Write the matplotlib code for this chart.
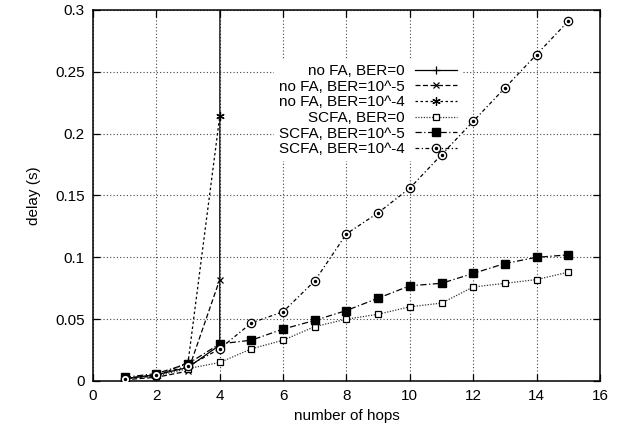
import numpy as np
import matplotlib.pyplot as plt

plt.rcParams['font.family'] = ['Liberation Sans', 'DejaVu Sans']
plt.rcParams['font.size'] = 11

# no FA series (delay explodes after 4 hops)
hops_nofa0 = [1, 2, 3, 4, 5]
nofa_ber0 = [0.002, 0.005, 0.011, 0.029, 50.0]
hops_nofa = [1, 2, 3, 4]
nofa_ber5 = [0.001, 0.003, 0.008, 0.082]
nofa_ber4 = [0.002, 0.004, 0.015, 0.214]

# SCFA series
hops = list(range(1, 16))
scfa_ber0 = [0.002, 0.004, 0.010, 0.015, 0.026, 0.033, 0.044, 0.050, 0.054,
             0.060, 0.063, 0.076, 0.079, 0.082, 0.088]
scfa_ber5 = [0.003, 0.006, 0.014, 0.030, 0.033, 0.042, 0.049, 0.057, 0.067,
             0.077, 0.079, 0.087, 0.095, 0.100, 0.102]
scfa_ber4 = [0.002, 0.005, 0.012, 0.026, 0.047, 0.056, 0.081, 0.119, 0.136,
             0.156, 0.183, 0.210, 0.237, 0.264, 0.291]

xticks = [0, 2, 4, 6, 8, 10, 12, 14, 16]
yticks = [0, 0.05, 0.1, 0.15, 0.2, 0.25, 0.3]
ytick_labels = ['0', '0.05', '0.1', '0.15', '0.2', '0.25', '0.3']

fig = plt.figure(figsize=(6.22, 4.29), dpi=100)
ax = fig.add_axes([0.1495, 0.1119, 0.8151, 0.8648])

lw = 0.9
l1, = ax.plot(hops_nofa0, nofa_ber0, color='black', lw=lw, ls='-', marker='+',
              ms=6, mew=0.9, zorder=3)
l2, = ax.plot(hops_nofa, nofa_ber5, color='black', lw=lw, ls=(0, (4, 2)), marker='x',
              ms=5, mew=0.9, zorder=3)
l3, = ax.plot(hops_nofa, nofa_ber4, color='black', lw=lw, ls=(0, (2, 2)),
              marker=(6, 2, 0), ms=6, mew=0.9, zorder=3)
l4, = ax.plot(hops, scfa_ber0, color='#333333', lw=lw, ls=(0, (1, 1.2)), marker='s',
              ms=5, mfc='white', mec='black', mew=0.9, zorder=3)
l5, = ax.plot(hops, scfa_ber5, color='black', lw=lw, ls=(0, (5, 2, 1, 2)), marker='s',
              ms=6, mfc='black', mec='black', zorder=3)
l6, = ax.plot(hops, scfa_ber4, color='black', lw=lw, ls=(0, (3, 2, 1, 2)), marker='o',
              ms=6, mfc='white', mec='black', mew=0.9, zorder=3)
# dot inside the circle markers
l6d, = ax.plot(hops, scfa_ber4, ls='none', marker='.', ms=3, color='black', zorder=4)

ax.set_xlim(0, 16)
ax.set_ylim(0, 0.3)
ax.set_xticks(xticks)
ax.set_yticks(yticks)
ax.set_yticklabels(ytick_labels)
ax.tick_params(direction='in', length=5, width=0.9, top=True, right=True, pad=6)
ax.set_axisbelow(True)
ax.grid(True, color='#444444', ls=(0, (1, 2)), lw=0.8)
for s in ax.spines.values():
    s.set_linewidth(1.1)

ax.set_xlabel('number of hops', labelpad=4)
ax.set_ylabel('delay (s)', labelpad=10)

labels = ['no FA, BER=0', 'no FA, BER=10^-5', 'no FA, BER=10^-4',
          'SCFA, BER=0', 'SCFA, BER=10^-5', 'SCFA, BER=10^-4']
leg = ax.legend([l1, l2, l3, l4, l5, (l6, l6d)], labels,
                loc='upper right', bbox_to_anchor=(0.728, 0.867), markerfirst=False,
                frameon=True, edgecolor='none', facecolor='white', framealpha=1,
                fancybox=False, handlelength=2.8, handletextpad=0.65,
                labelspacing=0.11, borderpad=0.3, borderaxespad=0)
for t in leg.get_texts():
    t.set_ha('right')
leg._legend_box.align = 'right'
leg.set_zorder(1.5)

plt.savefig('out.png', dpi=100)
